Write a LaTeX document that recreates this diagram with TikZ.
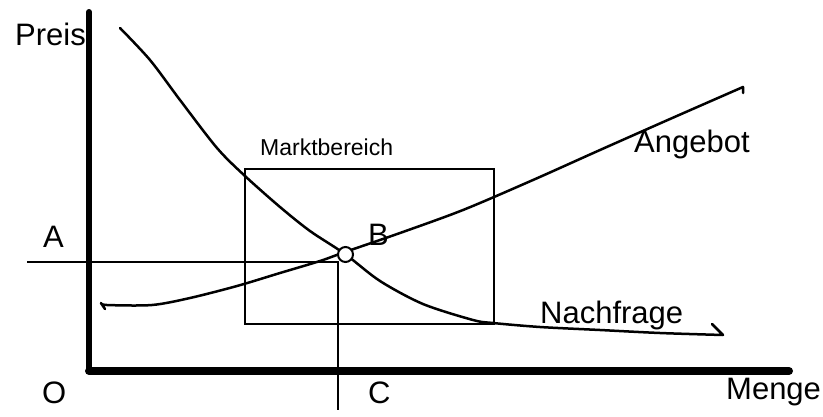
\documentclass[tikz,border=0pt]{standalone}
\usepackage{fontspec}
\setmainfont{Liberation Sans}
\usepackage{tikz}
\usetikzlibrary{positioning}

\begin{document}
\begin{tikzpicture}[x=1pt,y=-1pt,
  axis/.style={line width=#1,line cap=round},
  thin/.style={line width=2pt},
  curve/.style={line width=2.5pt,line join=round,line cap=round},
  lab/.style={font=\fontsize{31}{36}\selectfont,anchor=base west,inner sep=0pt},
  small/.style={font=\fontsize{23}{28}\selectfont,anchor=base west,inner sep=0pt}]
\useasboundingbox (0,0) rectangle (823,416);
% axes
\coordinate (o) at (89,371);
\coordinate (ytop) at (89,12);
\coordinate (xend) at (789,371);
\draw[axis=6pt] (o) -- (ytop);
\draw[axis=8pt] (o) -- (xend);
% market region
\node[draw,thin,minimum width=249pt,minimum height=155pt,inner sep=0pt] (box) at (369.5,246.5) {};
% guide lines through equilibrium
\coordinate (pA) at (27,262);
\coordinate (pK) at (338,262);
\coordinate (pC) at (338,410);
\draw[thin] (pA) -- (pK) -- (pC);
% demand
\draw[curve] plot[smooth,tension=0.5] coordinates {(120,28) (150,60) (180,100)
  (217,148) (245,176) (280,207) (310,231) (345,254) (380,281) (423,304) (473,320)
  (493,323) (540,327) (600,330) (660,333) (723,335)} -- (712,324);
% supply
\draw[curve] (105,309) -- plot[smooth,tension=0.5] coordinates {(101,303) (107,305)
  (152,305) (190,298) (237,286) (280,273) (320,261) (345,252) (400,233) (463,210)
  (533,180) (600,150) (670,119) (743,87)} -- (743,93);
% equilibrium point
\node[circle,draw,thin,fill=white,minimum size=15pt,inner sep=0pt] (eq) at (345.5,254.5) {};
% labels
\node[lab] (preis) at (15,45) {Preis};
\node[lab] (la) at (43,247) {A};
\node[lab] (lb) at (368,245) {B};
\node[lab] (lo) at (42,403) {O};
\node[lab] (lc) at (368,403) {C};
\node[lab] (menge) at (726,399) {Menge};
\node[lab] (angebot) at (634,152) {Angebot};
\node[lab] (nachfrage) at (540,323) {Nachfrage};
\node[small] (markt) at (260,155) {Marktbereich};
\end{tikzpicture}
\end{document}
